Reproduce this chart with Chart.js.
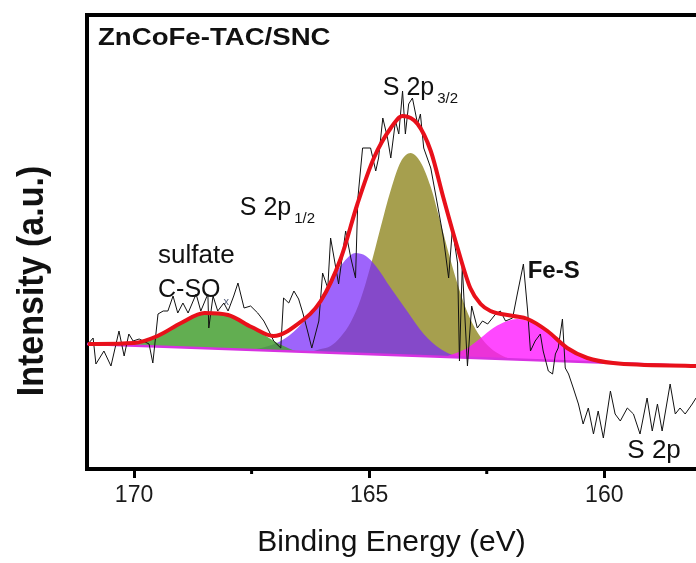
<!DOCTYPE html>
<html>
<head>
<meta charset="utf-8">
<title>S 2p XPS</title>
<script src="https://cdn.jsdelivr.net/npm/chart.js@4.4.1/dist/chart.umd.min.js"></script>
<style>
  html, body { margin: 0; padding: 0; background: #fff; overflow: hidden; }
  #wrap { width: 696px; height: 563px; }
</style>
</head>
<body>
<div id="wrap"><canvas id="xps" width="696" height="563"></canvas></div>
<script>
// S 2p region, binding energy (eV) against intensity (a.u.)

// measured spectrum
const rawEnergy = [
  170.98, 170.87, 170.81, 170.64, 170.49, 170.32, 170.21, 170.11, 170.02, 169.89,
  169.68, 169.60, 169.49, 169.38, 169.28, 169.17, 169.07, 168.96, 168.85, 168.68,
  168.58, 168.43, 168.41, 168.32, 168.22, 168.09, 168.00, 167.88, 167.79, 167.66,
  167.52, 167.37, 167.24, 167.13, 167.03, 166.88, 166.82, 166.71, 166.60, 166.50,
  166.41, 166.31, 166.22, 166.07, 165.99, 165.88, 165.82, 165.65, 165.50, 165.39,
  165.29, 165.24, 165.14, 164.97, 164.86, 164.80, 164.71, 164.61, 164.54, 164.44,
  164.37, 164.29, 164.23, 164.16, 164.08, 163.97, 163.91, 163.84, 163.69, 163.55,
  163.42, 163.31, 163.23, 163.12, 163.08, 163.02, 162.91, 162.82, 162.70, 162.59,
  162.48, 162.31, 162.21, 162.10, 161.95, 161.85, 161.72, 161.63, 161.57, 161.47,
  161.36, 161.30, 161.19, 161.10, 161.04, 160.98, 160.89, 160.83, 160.76, 160.66,
  160.55, 160.45, 160.34, 160.23, 160.13, 160.02, 159.87, 159.77, 159.66, 159.51,
  159.38, 159.24, 159.09, 158.98, 158.87, 158.77, 158.60, 158.49, 158.39, 158.28,
  158.13, 158.05
];
const rawCounts = [
  125, 131, 105, 118, 103, 138, 113, 135, 128, 130,
  125, 106, 155, 158, 158, 173, 156, 166, 156, 175,
  158, 175, 141, 173, 158, 166, 158, 173, 186, 161,
  163, 156, 148, 138, 128, 121, 171, 166, 178, 170,
  156, 138, 121, 148, 196, 181, 231, 185, 238, 211,
  191, 271, 321, 321, 298, 311, 351, 331, 311, 348,
  335, 378, 335, 365, 371, 345, 355, 321, 301, 265,
  231, 191, 240, 206, 108, 203, 103, 163, 141, 148,
  145, 155, 158, 148, 151, 175, 205, 158, 118, 128,
  135, 118, 98, 95, 115, 121, 150, 101, 95, 81,
  65, 45, 61, 35, 58, 31, 78, 55, 48, 61,
  55, 35, 71, 38, 65, 38, 85, 55, 61, 55,
  65, 71
];

// envelope of the fit
const fitEnergy = [
  170.98, 170.00, 169.50, 169.00, 168.50, 168.00, 167.50, 167.03, 166.52, 166.03,
  165.60, 165.25, 164.90, 164.54, 164.29, 163.97, 163.69, 163.42, 163.12, 162.85,
  162.63, 162.42, 161.93, 161.63, 161.21, 160.79, 160.36, 159.81, 158.05
];
const fitCounts = [
  125, 126, 133, 146, 156, 154, 142, 133, 145, 168,
  211, 265, 311, 341, 353, 345, 318, 271, 221, 181,
  165, 158, 153, 150, 138, 121, 111, 106, 103
];

// background line
const bgEnergy = [171, 158.05];
const bgCounts = [125, 103];

// fitted components
const soxEnergy = [
  170.17, 169.85, 169.49, 169.21, 169.00, 168.75, 168.49, 168.26, 168.00, 167.73,
  167.49, 167.26, 167.03, 166.77, 166.56, 166.35
];
const soxCounts = [124, 126, 133, 140, 147, 153, 156, 156, 154, 149, 142, 135, 128, 122, 118, 117];

const p12Energy = [
  167.52, 167.30, 166.88, 166.52, 166.18, 165.82, 165.54, 165.29, 165.07, 164.86,
  164.54, 164.18, 163.84, 163.48, 163.16, 162.85
];
const p12Counts = [119, 121, 128, 141, 160, 187, 207, 216, 213, 203, 181, 157, 135, 120, 113, 111];

const p32Energy = [
  166.25, 166.03, 165.82, 165.61, 165.39, 165.18, 164.97, 164.76, 164.54, 164.33,
  164.12, 163.91, 163.69, 163.48, 163.27, 163.06, 162.85, 162.63, 162.42, 162.20, 162.00
];
const p32Counts = [117, 120, 123, 132, 147, 170, 203, 241, 279, 307, 316, 307, 282, 246, 209, 176, 150, 132, 121, 114, 110];

const fesEnergy = [
  163.33, 162.91, 162.63, 162.36, 162.06, 161.85, 161.63, 161.36, 161.08, 160.79,
  160.51, 160.15, 159.80
];
const fesCounts = [113, 121, 131, 141, 148, 150, 148, 143, 131, 121, 113, 107, 106];

const tickValues = [170, 167.5, 165, 162.5, 160];
const majorTicks = [170, 165, 160];

const FONT = "'Liberation Sans', Arial, sans-serif";

const pts = (xs, ys) => xs.map((x, i) => ({ x: x, y: ys[i] }));
const BG = 6;

const peak = (label, xs, ys, color, order) => ({
  label: label,
  data: pts(xs, ys),
  fill: { target: BG },
  backgroundColor: color,
  borderColor: 'rgba(0,0,0,0)',
  borderWidth: 0,
  pointRadius: 0,
  tension: 0.4,
  cubicInterpolationMode: 'monotone',
  order: order,
});

// labels placed in data coordinates (eV, counts)
const labels = [
  { text: 'S 2p', sub: '3/2', e: 164.71, c: 374, size: 25 },
  { text: 'S 2p', sub: '1/2', e: 167.75, c: 254, size: 25 },
  { text: 'sulfate', e: 169.49, c: 206, size: 26 },
  { text: 'C-SO', sub: 'x', e: 169.49, c: 172, size: 25, subColor: '#55607a', subSize: 11 },
  { text: 'Fe-S', e: 161.63, c: 191, size: 24, bold: true },
  { text: 'S 2p', e: 159.51, c: 11, size: 26 },
];

function putText(ctx, text, x, y, font, sx) {
  ctx.save();
  ctx.translate(x, y);
  ctx.scale(sx || 1, 1);
  ctx.font = font;
  ctx.fillText(text, 0, 0);
  const w = ctx.measureText(text).width * (sx || 1);
  ctx.restore();
  return w;
}

const textPlugin = {
  id: 'spectrumText',
  beforeDatasetsDraw(chart) {
    const { ctx, chartArea, scales } = chart;
    ctx.save();
    ctx.fillStyle = '#111';
    ctx.textAlign = 'left';
    ctx.textBaseline = 'alphabetic';

    putText(ctx, 'ZnCoFe-TAC/SNC', chartArea.left + 11, chartArea.top + 30, 'bold 24px ' + FONT, 1.15);

    labels.forEach(l => {
      const x = scales.x.getPixelForValue(l.e);
      const y = scales.y.getPixelForValue(l.c);
      const w = putText(ctx, l.text, x, y, (l.bold ? 'bold ' : '') + l.size + 'px ' + FONT);
      if (l.sub) {
        ctx.fillStyle = l.subColor || '#111';
        putText(ctx, l.sub, x + w + 3, y + 8, (l.subSize || 15) + 'px ' + FONT);
        ctx.fillStyle = '#111';
      }
    });
    ctx.restore();
  },
  afterDraw(chart) {
    const { ctx, chartArea, scales } = chart;
    ctx.save();
    // minor ticks on the energy axis
    ctx.strokeStyle = '#000';
    ctx.lineWidth = 3;
    tickValues.filter(v => !majorTicks.includes(v)).forEach(v => {
      const x = scales.x.getPixelForValue(v);
      ctx.beginPath();
      ctx.moveTo(x, chartArea.bottom);
      ctx.lineTo(x, chartArea.bottom + 5);
      ctx.stroke();
    });

    ctx.fillStyle = '#111';
    ctx.textAlign = 'center';
    ctx.textBaseline = 'alphabetic';
    ctx.font = '30px ' + FONT;
    ctx.fillText('Binding Energy (eV)', (chartArea.left + chartArea.right) / 2, 551);

    ctx.translate(33, 281);
    ctx.rotate(-Math.PI / 2);
    ctx.scale(1, 1.1);
    ctx.textBaseline = 'middle';
    ctx.font = 'bold 34px ' + FONT;
    ctx.fillText('Intensity (a.u.)', 0, 0);
    ctx.restore();
  },
};

new Chart(document.getElementById('xps'), {
  type: 'line',
  data: {
    datasets: [
      peak('S 2p3/2', p32Energy, p32Counts, 'rgb(166,159,78)', 7),
      peak('S 2p1/2', p12Energy, p12Counts, 'rgba(120,40,250,0.72)', 6),
      peak('Fe-S', fesEnergy, fesCounts, 'rgba(255,20,255,0.78)', 5),
      peak('C-SOx', soxEnergy, soxCounts, 'rgba(70,160,50,0.85)', 4),
      {
        label: 'raw',
        data: pts(rawEnergy, rawCounts),
        borderColor: '#111',
        borderWidth: 1,
        pointRadius: 0,
        fill: false,
        tension: 0,
        order: 2,
      },
      {
        label: 'fit',
        data: pts(fitEnergy, fitCounts),
        borderColor: 'rgb(232,16,26)',
        borderWidth: 4,
        pointRadius: 0,
        fill: false,
        tension: 0.4,
        cubicInterpolationMode: 'monotone',
        order: 1,
      },
      {
        label: 'background',
        data: pts(bgEnergy, bgCounts),
        borderColor: 'rgb(215,50,225)',
        borderWidth: 2.5,
        pointRadius: 0,
        fill: false,
        order: 3,
      },
    ],
  },
  options: {
    responsive: false,
    devicePixelRatio: 1,
    animation: false,
    events: [],
    layout: { padding: 0, autoPadding: false },
    plugins: { legend: { display: false }, tooltip: { enabled: false } },
    scales: {
      x: {
        type: 'linear',
        position: 'bottom',
        reverse: true,
        min: 158.05,
        max: 171,
        afterBuildTicks: s => { s.ticks = tickValues.map(v => ({ value: v })); },
        afterFit: s => { s.height = 94; },
        border: { display: true, width: 4, color: '#000' },
        grid: {
          drawOnChartArea: false,
          drawTicks: true,
          tickLength: 9,
          tickWidth: 3,
          tickColor: c => (c.tick && majorTicks.includes(c.tick.value)) ? '#000' : 'rgba(0,0,0,0)',
        },
        ticks: {
          autoSkip: false,
          maxRotation: 0,
          padding: 4,
          color: '#1a1a1a',
          font: { family: FONT, size: 23 },
          callback: v => majorTicks.includes(v) ? String(v) : '',
        },
      },
      xTop: {
        type: 'linear',
        position: 'top',
        reverse: true,
        min: 158.05,
        max: 171,
        ticks: { display: false },
        grid: { display: false, drawTicks: false },
        border: { display: true, width: 4, color: '#000' },
        afterFit: s => { s.height = 15; },
      },
      y: {
        min: 0,
        max: 454,
        ticks: { display: false },
        grid: { display: false, drawTicks: false },
        border: { display: true, width: 4, color: '#000' },
        afterFit: s => { s.width = 87; },
      },
    },
  },
  plugins: [textPlugin],
});
</script>
</body>
</html>
